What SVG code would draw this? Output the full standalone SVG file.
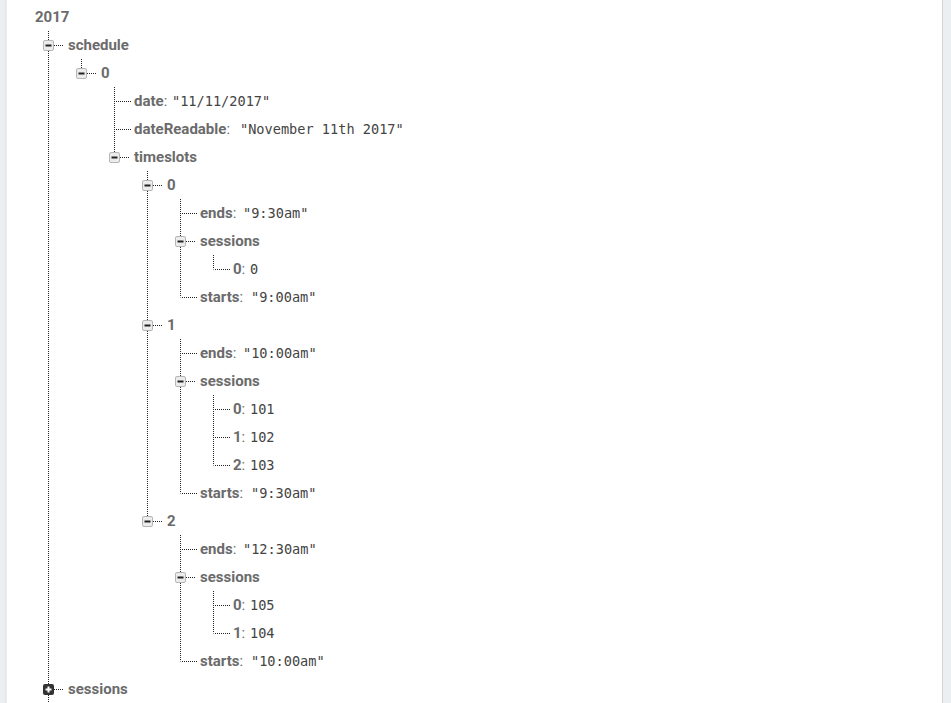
<svg xmlns="http://www.w3.org/2000/svg" width="951" height="703" viewBox="0 0 951 703">
<style>
.k{font-family:Roboto,"Liberation Sans",sans-serif;font-size:15px;font-weight:700;fill:#6b6b6b}
.c{font-weight:400}
.v{font-family:"DejaVu Sans Mono","Liberation Mono",monospace;font-size:13.6px;fill:#444}
.d{stroke:#222;stroke-width:1;stroke-dasharray:1 1;fill:none}
.mb{fill:#ececec;stroke:#b5b5b5;stroke-width:1}
.mm{fill:#222}
.pb{fill:#333}
.pp{fill:#fff}
</style>
<defs>
<g id="minus"><rect class="mb" x="-5" y="-5" width="10" height="10" rx="1.5"/><rect class="mm" x="-3" y="-1" width="6" height="2"/></g>
<g id="plus"><rect class="pb" x="-5.5" y="-5.5" width="11" height="11" rx="2"/><rect class="pp" x="-3" y="-1" width="6" height="2"/><rect class="pp" x="-1" y="-3" width="2" height="6"/></g>
</defs>
<rect x="0" y="0" width="951" height="703" fill="#fff"/>
<rect x="0" y="0" width="6" height="703" fill="#eceff1"/>
<rect x="5.5" y="0" width="1" height="703" fill="#d9dcde"/>
<rect x="942" y="0" width="9" height="703" fill="#eceff1"/>
<rect x="942" y="0" width="1" height="703" fill="#d2d5d7"/>
<g id="connectors">
<path class="d" d="M48.5 31V703 M81.5 59V73.5 M114.5 87V157.5 M147.5 171V521.5 M180.5 199V297.5 M213.5 255V269.5 M180.5 339V493.5 M213.5 395V465.5 M180.5 535V661.5 M213.5 591V633.5"/>
<path class="d" d="M54 45.5H63 M87 73.5H96 M120 157.5H129 M153 185.5H162 M186 241.5H195 M153 325.5H162 M186 381.5H195 M153 521.5H162 M186 577.5H195 M54 689.5H63"/>
<path class="d" d="M116 101.5H131 M116 129.5H131 M182 213.5H197 M215 269.5H230 M182 297.5H197 M182 353.5H197 M215 409.5H230 M215 437.5H230 M215 465.5H230 M182 493.5H197 M182 549.5H197 M215 605.5H230 M215 633.5H230 M182 661.5H197"/>
</g>
<g id="n-2017"><text class="k" x="35" y="22">2017</text></g>
<g id="n-schedule"><use href="#minus" x="48.5" y="45.5"/><text class="k" x="68" y="50">schedule</text></g>
<g id="n-s0"><use href="#minus" x="81.5" y="73.5"/><text class="k" x="101" y="78">0</text></g>
<g id="n-date"><text class="k" x="134" y="106">date<tspan class="c">:</tspan></text><text class="v" x="172" y="106">"11/11/2017"</text></g>
<g id="n-dateReadable"><text class="k" x="134" y="134">dateReadable<tspan class="c">:</tspan></text><text class="v" x="240" y="134">"November 11th 2017"</text></g>
<g id="n-timeslots"><use href="#minus" x="114.5" y="157.5"/><text class="k" x="134" y="162">timeslots</text></g>

<g id="n-t0"><use href="#minus" x="147.5" y="185.5"/><text class="k" x="167" y="190">0</text></g>
<g id="n-t0-ends"><text class="k" x="200" y="218">ends<tspan class="c">:</tspan></text><text class="v" x="243" y="218">"9:30am"</text></g>
<g id="n-t0-sessions"><use href="#minus" x="180.5" y="241.5"/><text class="k" x="200" y="246">sessions</text></g>
<g id="n-t0-s0"><text class="k" x="233" y="274">0<tspan class="c">:</tspan></text><text class="v" x="250" y="274">0</text></g>
<g id="n-t0-starts"><text class="k" x="200" y="302">starts<tspan class="c">:</tspan></text><text class="v" x="251" y="302">"9:00am"</text></g>

<g id="n-t1"><use href="#minus" x="147.5" y="325.5"/><text class="k" x="167" y="330">1</text></g>
<g id="n-t1-ends"><text class="k" x="200" y="358">ends<tspan class="c">:</tspan></text><text class="v" x="243" y="358">"10:00am"</text></g>
<g id="n-t1-sessions"><use href="#minus" x="180.5" y="381.5"/><text class="k" x="200" y="386">sessions</text></g>
<g id="n-t1-s0"><text class="k" x="233" y="414">0<tspan class="c">:</tspan></text><text class="v" x="250" y="414">101</text></g>
<g id="n-t1-s1"><text class="k" x="233" y="442">1<tspan class="c">:</tspan></text><text class="v" x="250" y="442">102</text></g>
<g id="n-t1-s2"><text class="k" x="233" y="470">2<tspan class="c">:</tspan></text><text class="v" x="250" y="470">103</text></g>
<g id="n-t1-starts"><text class="k" x="200" y="498">starts<tspan class="c">:</tspan></text><text class="v" x="251" y="498">"9:30am"</text></g>

<g id="n-t2"><use href="#minus" x="147.5" y="521.5"/><text class="k" x="167" y="526">2</text></g>
<g id="n-t2-ends"><text class="k" x="200" y="554">ends<tspan class="c">:</tspan></text><text class="v" x="243" y="554">"12:30am"</text></g>
<g id="n-t2-sessions"><use href="#minus" x="180.5" y="577.5"/><text class="k" x="200" y="582">sessions</text></g>
<g id="n-t2-s0"><text class="k" x="233" y="610">0<tspan class="c">:</tspan></text><text class="v" x="250" y="610">105</text></g>
<g id="n-t2-s1"><text class="k" x="233" y="638">1<tspan class="c">:</tspan></text><text class="v" x="250" y="638">104</text></g>
<g id="n-t2-starts"><text class="k" x="200" y="666">starts<tspan class="c">:</tspan></text><text class="v" x="251" y="666">"10:00am"</text></g>

<g id="n-sessions"><use href="#plus" x="48.5" y="689.5"/><text class="k" x="68" y="694">sessions</text></g>
</svg>
